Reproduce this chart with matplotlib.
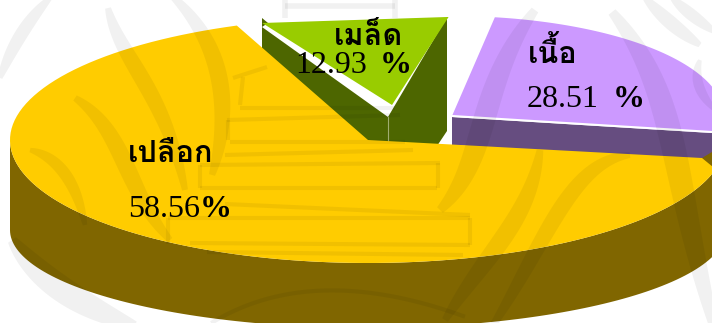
import matplotlib
matplotlib.use('Agg')
import matplotlib.pyplot as plt
import numpy as np
from matplotlib.patches import Polygon

labels = ["เปลือก", "เนื้อ", "เมล็ด"]
percents = [58.56, 28.51, 12.93]

W, H = 712, 323
RX, RY = 358, 123
THAI = ['Loma', 'FreeSerif', 'DejaVu Sans']
SERIF = 'Liberation Serif'
SHADE = 0.055

fig = plt.figure(figsize=(W / 100, H / 100), dpi=100)
ax = fig.add_axes([0, 0, 1, 1])
ax.set_xlim(0, W)
ax.set_ylim(H, 0)
ax.axis('off')


def arc(cx, cy, a0, a1, sx=1.0, sy=1.0, n=120):
    t = np.radians(np.linspace(a0, a1, n))
    return np.column_stack([cx + sx * RX * np.cos(t), cy - sy * RY * np.sin(t)])


def poly(pts, color, z):
    ax.add_patch(Polygon(pts, closed=True, fc=color, ec='none', zorder=z))


def bezier(ctrl, n=50):
    pts = np.array(ctrl, dtype=float)
    out = []
    for t in np.linspace(0, 1, n):
        p = pts.copy()
        while len(p) > 1:
            p = p[:-1] * (1 - t) + p[1:] * t
        out.append(p[0])
    return np.array(out)


def swoosh(ctrl, width):
    # tapered curved band of the background seal
    c = bezier(ctrl)
    d = np.gradient(c, axis=0)
    d /= np.linalg.norm(d, axis=1, keepdims=True)
    normal = np.column_stack([-d[:, 1], d[:, 0]])
    w = width / 2 * np.sin(np.linspace(0.06, 0.94, len(c)) * np.pi) ** 0.6
    pts = np.vstack([c + normal * w[:, None], (c - normal * w[:, None])[::-1]])
    ax.add_patch(Polygon(pts, closed=True, fc='black', alpha=SHADE, ec='none', zorder=10))


def band(x0, y0, x1, y1, lw=3):
    ax.plot([x0, x1], [y0, y1], color='black', alpha=SHADE, lw=lw,
            solid_capstyle='butt', zorder=10)


# perspective squeezes each slice differently
span_scale = [1.1135, 0.886, 0.87]
spans = [p * 3.6 * s for p, s in zip(percents, span_scale)]

# yellow slice with its outer wall
cx, cy = 368, 140
y_start = 111.5
y_end = y_start + spans[0]
wall_top = arc(cx, cy, 180, y_end)
wall_low = arc(cx, 230, 180, y_end, sy=98 / RY)
poly(np.vstack([wall_top, wall_low[::-1]]), '#806600', 5)
poly([[702, 158], [712, 152], [712, 175]], '#806600', 5)
poly(np.vstack([[[cx, cy]], arc(cx, cy, y_start, y_end), [[702, 158]]]), '#ffcc00', 6)

# purple slice pulled out to the right
px, py = 452, 116
p_end = -10
p_start = p_end + spans[1]
p_sx, p_sy = 272 / RX, 100 / RY
poly(np.vstack([[[px, py]], arc(px, py, p_end, p_start, p_sx, p_sy)]), '#cc99ff', 3)
poly([[px, py + 1], [712, 133], [712, 161], [px, py + 29]], '#664d80', 4)
ax.plot([px, 712], [py, 132], color='white', lw=1.5, zorder=4.5)

# green slice and the inner walls under it
gx, gy = 392, 105
g_start = 78
g_end = g_start + spans[2]
g_pts = np.vstack([[[gx, gy]], arc(gx, gy, g_start, g_end, 0.76, 0.76)])
g_pts[:, 1] = np.maximum(g_pts[:, 1], np.interp(g_pts[:, 0], [262, 447], [23, 17]))
poly(g_pts, '#99cc00', 3)
wx, wy = 388, 117
poly([[262, 27], [wx, wy], [wx, 146], [262, 146]], '#4d6600', 2.5)
poly([[wx, wy], [447, 17], [447, 131], [437, 146], [wx, 146]], '#4d6600', 2.5)
poly([[262, 18], [268, 23], [262, 27]], '#4d6600', 2.5)
ax.plot([wx, wx], [wy, 146], color='#a0ad70', lw=0.8, zorder=2.6)

# curved bands of the seal
swoosh([(0, 78), (18, 30), (50, -2)], 13)
swoosh([(12, 240), (50, 295), (135, 326)], 26)
swoosh([(108, 8), (120, 60), (165, 90), (185, 190)], 16)
swoosh([(172, -4), (225, 45), (232, 110), (212, 175)], 17)
swoosh([(75, 98), (125, 130), (125, 190), (170, 240)], 17)
swoosh([(30, 150), (72, 160), (85, 225)], 12)
swoosh([(535, 10), (475, 90), (490, 160), (440, 210)], 22)
swoosh([(612, 12), (680, 95), (670, 170), (715, 330)], 24)
swoosh([(630, 155), (570, 160), (545, 245), (490, 330)], 16)
swoosh([(540, 150), (530, 220), (485, 255), (445, 320)], 18)
swoosh([(645, -2), (670, 25), (700, 45)], 14)
swoosh([(672, -2), (690, 15), (715, 32)], 12)
swoosh([(700, 60), (690, 85), (715, 110)], 10)

# stepped temple in the middle of the seal
for seg in [(230, 142, 405, 142), (225, 155, 413, 150), (200, 165, 440, 163),
            (200, 188, 437, 188), (225, 204, 470, 215), (168, 218, 470, 218),
            (190, 243, 470, 245), (207, 252, 463, 255), (240, 108, 395, 108),
            (227, 120, 400, 115), (233, 78, 267, 67)]:
    band(*seg)
for seg in [(200, 165, 200, 188), (438, 163, 438, 188), (168, 218, 168, 244),
            (470, 218, 470, 245), (243, 77, 240, 105), (228, 120, 228, 140)]:
    band(*seg)
for seg in [(285, 0, 285, 18), (395, 0, 395, 18), (285, 6, 395, 6)]:
    band(*seg, lw=4)
dome = bezier([(213, 322), (313, 262), (463, 316)])
ax.plot(dome[:, 0], dome[:, 1], color='black', alpha=SHADE, lw=3, zorder=10)

# labels, percent sign set apart in bold
label_xy = [(128, 162), (528, 63), (334, 45)]
value_xy = [(128, 217), (527, 107), (295, 73)]
sign_x = [200, 613, 380]
for name, value, (lx, ly), (vx, vy), sx in zip(labels, percents, label_xy, value_xy, sign_x):
    ax.text(lx, ly, name, fontsize=22, fontweight='bold', family=THAI, va='baseline', zorder=15)
    ax.text(vx, vy, f"{value:.2f}", fontsize=23, family=SERIF, va='baseline', zorder=15)
    ax.text(sx, vy, "%", fontsize=23, fontweight='bold', family=SERIF, va='baseline', zorder=15)

fig.savefig('out.png', dpi=100)
